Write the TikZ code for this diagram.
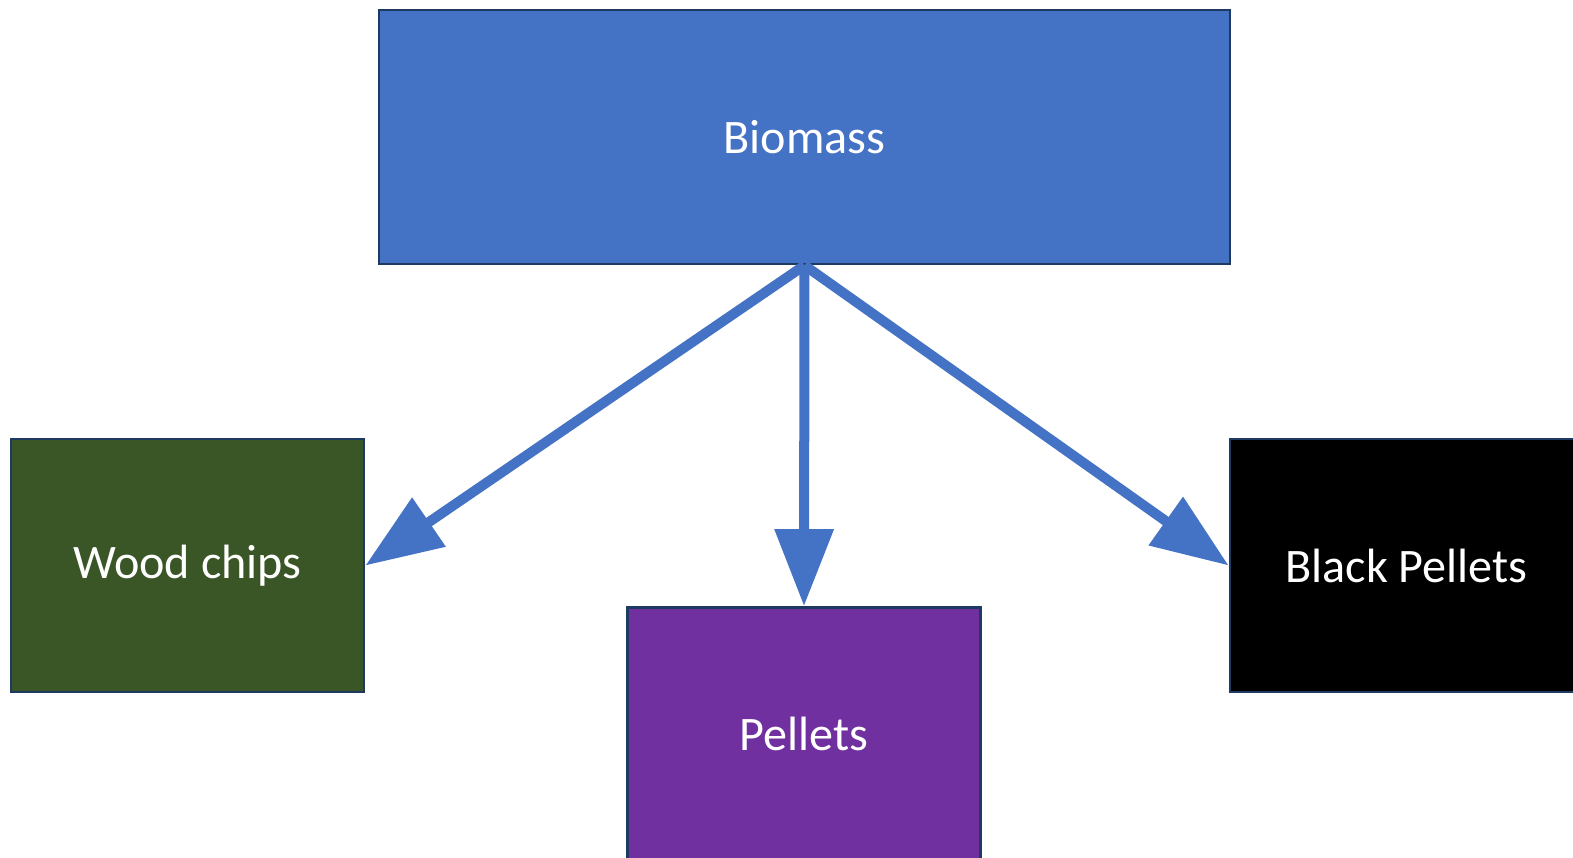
\documentclass[tikz,border=0pt]{standalone}
\usepackage{fontspec}
\setmainfont{Carlito}
\usetikzlibrary{arrows.meta}

\definecolor{boxblue}{HTML}{4472C4}
\definecolor{boxgreen}{HTML}{3A5526}
\definecolor{boxpurple}{HTML}{7030A0}
\definecolor{boxline}{HTML}{1F3A60}

\tikzset{
  box/.style={draw=boxline, line width=0.8pt, text=white, font=\fontsize{13.7}{16}\selectfont,
    minimum width=3.53cm, minimum height=2.53cm, inner sep=0pt},
  link/.style={draw=boxblue, line width=0.1cm, -{Triangle[length=0.77cm,width=0.57cm]}}
}

\begin{document}
\begin{tikzpicture}
        \clip (0,0) rectangle (15.73,8.57);

        \node[box, fill=boxblue, minimum width=8.51cm, minimum height=2.54cm] (biomass) at (8.045,7.2) {Biomass};
        \node[box, fill=boxgreen] (woodchips) at (1.875,2.915) {Wood chips};
        \node[box, fill=boxpurple] (pellets) at (8.04,1.23) {Pellets};
        \node[box, fill=black] (blackpellets) at (14.065,2.915) {Black Pellets};

        \draw[link] (biomass.south) -- (woodchips.east);
        \draw[link] (biomass.south) -- (pellets.north);
        \draw[link] (biomass.south) -- (blackpellets.west);
      \end{tikzpicture}
\end{document}
